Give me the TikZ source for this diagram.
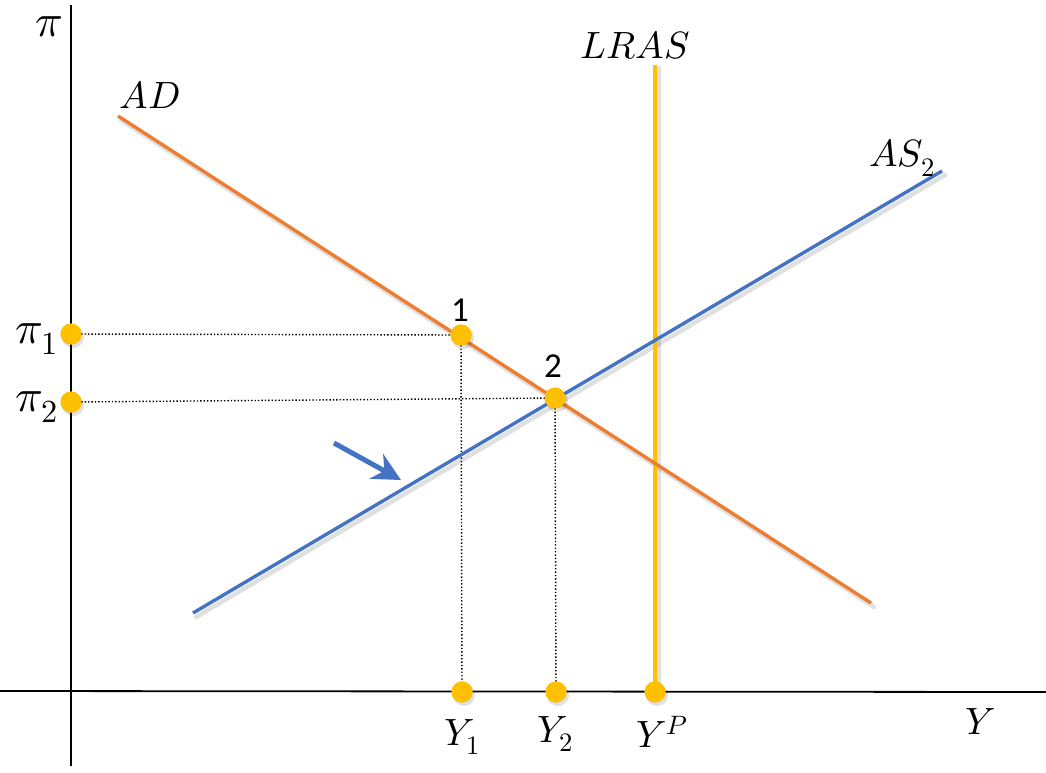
\documentclass[tikz,border=0pt]{standalone}
\usepackage{unicode-math}
\setmathfont{Latin Modern Math}
\newfontfamily\digitfont{Carlito}
\usetikzlibrary{arrows.meta}
\definecolor{adorange}{HTML}{ED7D31}
\definecolor{asblue}{HTML}{4472C4}
\definecolor{lrasgold}{HTML}{FFC000}
\definecolor{dotgold}{HTML}{FFC000}
\tikzset{
  axisline/.style={line width=1.8pt, black},
  curve/.style={line width=3.4pt},
  shade line/.style={line width=4.5pt, black, opacity=0.12, line cap=round},
  guide/.style={line width=1.4pt, black, dotted},
  pointdot/.style={circle, fill=dotgold, minimum size=21pt, inner sep=0pt},
  mathlabel/.style={font=\fontsize{38}{42}\selectfont, inner sep=0pt},
  pilabel/.style={font=\fontsize{46}{50}\selectfont, inner sep=0pt},
  numlabel/.style={font=\digitfont\fontsize{35}{38}\selectfont, inner sep=0pt},
}
\begin{document}
\begin{tikzpicture}[x=1pt,y=-1pt]
\useasboundingbox (0,0) rectangle (1046,772);
% coordinates
\coordinate (yaxTop) at (71,5);
\coordinate (yaxBot) at (71,766);
\coordinate (xaxL) at (0,691);
\coordinate (xaxR) at (1046,692);
\coordinate (adA) at (118,116);
\coordinate (adB) at (871,603);
\coordinate (asA) at (193,613);
\coordinate (asB) at (942,171);
\coordinate (lrTop) at (655,65);
\coordinate (arTail) at (334,443);
\coordinate (arTip) at (401,480);

% shadows
\draw[shade line] ([shift={(3,4)}]adA) -- ([shift={(3,4)}]adB);
\draw[shade line] ([shift={(3,4)}]asA) -- ([shift={(3,4)}]asB);
\draw[shade line] ([shift={(4,3)}]lrTop) -- (659,691);

% axes
\draw[axisline] (yaxTop) -- (yaxBot);
\draw[axisline] (xaxL) -- (xaxR);

% points
\node[pointdot] (p1) at (461,335) {};
\node[pointdot] (p2) at (555,398) {};
\node[pointdot] (pi1) at (71,334) {};
\node[pointdot] (pi2) at (71,402) {};
\node[pointdot] (y1) at (462,692) {};
\node[pointdot] (y2) at (556,692) {};
\node[pointdot] (yp) at (655,692) {};

% guides
\draw[guide] (pi1.center) -- (p1.center);
\draw[guide] (pi2.center) -- (p2.center);
\draw[guide] (p1.center) -- (y1.center);
\draw[guide] (p2.center) -- (y2.center);

% curves
\draw[curve, lrasgold] (lrTop) -- (yp.center);
\draw[curve, adorange] (adA) -- (adB);
\draw[curve, asblue] (asA) -- (asB);

% redraw dots on top
\foreach \n in {p1,p2,pi1,pi2,y1,y2,yp}{
  \fill[black, opacity=0.12] ([shift={(2,3)}]\n.center) circle (11pt);
  \node[pointdot] at (\n.center) {};
}

% arrow
\draw[asblue, line width=5pt, -{Stealth[length=28pt,width=28pt,inset=9pt]}] (arTail) -- (arTip);

% labels
\node[pilabel] (lpi) at (49,27) {$\pi$};
\node[mathlabel] (lad) at (150,95) {$AD$};
\node[mathlabel] (llras) at (635,45) {$LRAS$};
\node[mathlabel] (las) at (902,158) {$AS_2$};
\node[pilabel] (lpi1) at (37,339) {$\pi_1$};
\node[pilabel] (lpi2) at (37,407) {$\pi_2$};
\node[mathlabel] (ly1) at (462,737) {$Y_1$};
\node[mathlabel] (ly2) at (555,734) {$Y_2$};
\node[mathlabel] (lyp) at (662,732) {$Y^P$};
\node[mathlabel] (ly) at (980,722) {$Y$};
\node[numlabel] (l1) at (460,310) {1};
\node[numlabel] (l2) at (553,366) {2};
\end{tikzpicture}
\end{document}
